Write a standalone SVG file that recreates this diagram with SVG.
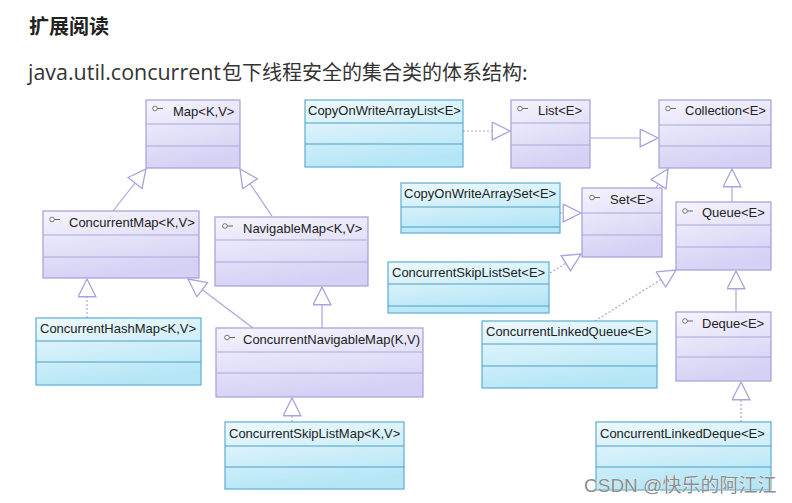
<svg xmlns="http://www.w3.org/2000/svg" width="792" height="503" viewBox="0 0 792 503">
<defs>
<linearGradient id="gI" x1="0" y1="0" x2="0.3" y2="1">
<stop offset="0" stop-color="#f5f4fd"/>
<stop offset="1" stop-color="#d5d1f4"/>
</linearGradient>
<linearGradient id="gC" x1="0" y1="0" x2="0.3" y2="1">
<stop offset="0" stop-color="#eef9fd"/>
<stop offset="1" stop-color="#b6e6f6"/>
</linearGradient>
<marker id="tri" markerUnits="userSpaceOnUse" markerWidth="20" markerHeight="20" viewBox="0 0 18 18" refX="17" refY="8.5" orient="auto">
<path d="M1,0.5 L17,8.5 L1,16.5 Z" fill="#ffffff" stroke="#a9a4dd" stroke-width="1.2" stroke-dasharray="none"/>
</marker>
<style>
.ib{fill:url(#gI);stroke:#a39ed9;stroke-width:1.2}
.id{stroke:#aba6dd;stroke-width:1}
.cb{fill:url(#gC);stroke:#5aaed4;stroke-width:1.2}
.cd{stroke:#4c9fc5;stroke-width:1}
.t{font-family:"Liberation Sans",Arial,sans-serif;font-size:13px;fill:#222}
.ic{fill:#fff;stroke:#666;stroke-width:0.9}
.il{stroke:#666;stroke-width:1}
.s{fill:none;stroke:#aaa5de;stroke-width:1.2;marker-end:url(#tri)}
.d{fill:none;stroke:#aaa5de;stroke-width:1.2;stroke-dasharray:2 2;marker-end:url(#tri)}
</style>
</defs>
<rect width="792" height="503" fill="#ffffff"/>
<text x="29" y="34" font-family="'Noto Sans CJK SC',sans-serif" font-size="20" font-weight="bold" fill="#222">扩展阅读</text>
<text y="80" fill="#333"><tspan x="28" font-family="'Open Sans','Noto Sans',sans-serif" font-size="22" textLength="193" lengthAdjust="spacingAndGlyphs">java.util.concurrent</tspan><tspan x="222" font-family="'Noto Sans CJK SC',sans-serif" font-size="20">包下线程安全的集合类的体系结构:</tspan></text>

<g id="connectors">
<path class="s" d="M113,211 L146,169"/>
<path class="s" d="M272,216 L240,169"/>
<path class="d" d="M87,318 L87,279"/>
<path class="s" d="M253,328 L188,279"/>
<path class="s" d="M322,328 L322,287"/>
<path class="d" d="M292,422 L292,398"/>
<path class="d" d="M463,131 L510,131"/>
<path class="s" d="M590,138 L658,138"/>
<path class="d" d="M560,213 L581,213"/>
<path class="s" d="M656,188 L668,169"/>
<path class="s" d="M732,202 L732,169"/>
<path class="d" d="M550,273 L581,254"/>
<path class="d" d="M595,321 L676,270"/>
<path class="s" d="M736,312 L736,271"/>
<path class="d" d="M741,422 L741,382"/>
</g>

<g id="Map">
<rect class="ib" x="146" y="100" width="94" height="68"/>
<line class="id" x1="146" y1="124" x2="240" y2="124"/><line class="id" x1="146" y1="146" x2="240" y2="146"/>
<circle class="ic" cx="155" cy="108.5" r="2.3"/><line class="il" x1="157.3" y1="108.5" x2="163" y2="108.5"/>
<text class="t" x="173" y="116">Map&lt;K,V&gt;</text>
</g>
<g id="ConcurrentMap">
<rect class="ib" x="43" y="211" width="156" height="67"/>
<line class="id" x1="43" y1="235" x2="199" y2="235"/><line class="id" x1="43" y1="257" x2="199" y2="257"/>
<circle class="ic" cx="52" cy="219.5" r="2.3"/><line class="il" x1="54.3" y1="219.5" x2="60" y2="219.5"/>
<text class="t" x="69" y="227">ConcurrentMap&lt;K,V&gt;</text>
</g>
<g id="NavigableMap">
<rect class="ib" x="215" y="217" width="153" height="69"/>
<line class="id" x1="215" y1="240" x2="368" y2="240"/><line class="id" x1="215" y1="262" x2="368" y2="262"/>
<circle class="ic" cx="225" cy="226" r="2.3"/><line class="il" x1="227.3" y1="226" x2="233" y2="226"/>
<text class="t" x="243" y="233">NavigableMap&lt;K,V&gt;</text>
</g>
<g id="ConcurrentHashMap">
<rect class="cb" x="36" y="318" width="165" height="67"/>
<line class="cd" x1="36" y1="341" x2="201" y2="341"/><line class="cd" x1="36" y1="362" x2="201" y2="362"/>
<text class="t" x="40" y="333">ConcurrentHashMap&lt;K,V&gt;</text>
</g>
<g id="ConcurrentNavigableMap">
<rect class="ib" x="216" y="328" width="207" height="69"/>
<line class="id" x1="216" y1="352" x2="423" y2="352"/><line class="id" x1="216" y1="373" x2="423" y2="373"/>
<circle class="ic" cx="227" cy="337.5" r="2.3"/><line class="il" x1="229.3" y1="337.5" x2="235" y2="337.5"/>
<text class="t" x="243" y="344">ConcurrentNavigableMap(K,V)</text>
</g>
<g id="ConcurrentSkipListMap">
<rect class="cb" x="225" y="422" width="179" height="67"/>
<line class="cd" x1="225" y1="446" x2="404" y2="446"/><line class="cd" x1="225" y1="467" x2="404" y2="467"/>
<text class="t" x="229" y="438">ConcurrentSkipListMap&lt;K,V&gt;</text>
</g>
<g id="CopyOnWriteArrayList">
<rect class="cb" x="305" y="100" width="158" height="67"/>
<line class="cd" x1="305" y1="123" x2="463" y2="123"/><line class="cd" x1="305" y1="144" x2="463" y2="144"/>
<text class="t" x="308" y="115">CopyOnWriteArrayList&lt;E&gt;</text>
</g>
<g id="List">
<rect class="ib" x="511" y="100" width="79" height="68"/>
<line class="id" x1="511" y1="123" x2="590" y2="123"/><line class="id" x1="511" y1="145" x2="590" y2="145"/>
<circle class="ic" cx="520" cy="108.5" r="2.3"/><line class="il" x1="522.3" y1="108.5" x2="528" y2="108.5"/>
<text class="t" x="538" y="115">List&lt;E&gt;</text>
</g>
<g id="Collection">
<rect class="ib" x="659" y="100" width="112" height="68"/>
<line class="id" x1="659" y1="125" x2="771" y2="125"/><line class="id" x1="659" y1="146" x2="771" y2="146"/>
<circle class="ic" cx="668" cy="108.5" r="2.3"/><line class="il" x1="670.3" y1="108.5" x2="676" y2="108.5"/>
<text class="t" x="685" y="115">Collection&lt;E&gt;</text>
</g>
<g id="CopyOnWriteArraySet">
<rect class="cb" x="401" y="183" width="159" height="50"/>
<line class="cd" x1="401" y1="207" x2="560" y2="207"/><line class="cd" x1="401" y1="227" x2="560" y2="227"/>
<text class="t" x="404" y="198">CopyOnWriteArraySet&lt;E&gt;</text>
</g>
<g id="Set">
<rect class="ib" x="582" y="188" width="80" height="69"/>
<line class="id" x1="582" y1="213" x2="662" y2="213"/><line class="id" x1="582" y1="235" x2="662" y2="235"/>
<circle class="ic" cx="592" cy="197.5" r="2.3"/><line class="il" x1="594.3" y1="197.5" x2="600" y2="197.5"/>
<text class="t" x="610" y="204">Set&lt;E&gt;</text>
</g>
<g id="Queue">
<rect class="ib" x="676" y="202" width="95" height="68"/>
<line class="id" x1="676" y1="225" x2="771" y2="225"/><line class="id" x1="676" y1="247" x2="771" y2="247"/>
<circle class="ic" cx="685" cy="211" r="2.3"/><line class="il" x1="687.3" y1="211" x2="693" y2="211"/>
<text class="t" x="702" y="217">Queue&lt;E&gt;</text>
</g>
<g id="ConcurrentSkipListSet">
<rect class="cb" x="388" y="262" width="161" height="51"/>
<line class="cd" x1="388" y1="284" x2="549" y2="284"/><line class="cd" x1="388" y1="306" x2="549" y2="306"/>
<text class="t" x="392" y="277">ConcurrentSkipListSet&lt;E&gt;</text>
</g>
<g id="ConcurrentLinkedQueue">
<rect class="cb" x="482" y="321" width="175" height="67"/>
<line class="cd" x1="482" y1="344" x2="657" y2="344"/><line class="cd" x1="482" y1="366" x2="657" y2="366"/>
<text class="t" x="486" y="336">ConcurrentLinkedQueue&lt;E&gt;</text>
</g>
<g id="Deque">
<rect class="ib" x="676" y="312" width="95" height="69"/>
<line class="id" x1="676" y1="337" x2="771" y2="337"/><line class="id" x1="676" y1="357" x2="771" y2="357"/>
<circle class="ic" cx="685" cy="321" r="2.3"/><line class="il" x1="687.3" y1="321" x2="693" y2="321"/>
<text class="t" x="702" y="328">Deque&lt;E&gt;</text>
</g>
<g id="ConcurrentLinkedDeque">
<rect class="cb" x="596" y="422" width="175" height="68"/>
<line class="cd" x1="596" y1="446" x2="771" y2="446"/><line class="cd" x1="596" y1="467" x2="771" y2="467"/>
<text class="t" x="600" y="438">ConcurrentLinkedDeque&lt;E&gt;</text>
</g>
<text x="584" y="492" font-family="'Liberation Sans','Noto Sans CJK SC',sans-serif" font-size="19" fill="#8c8c8c" stroke="#ffffff" stroke-width="0.6" paint-order="stroke">CSDN @快乐的阿江江</text>
</svg>
